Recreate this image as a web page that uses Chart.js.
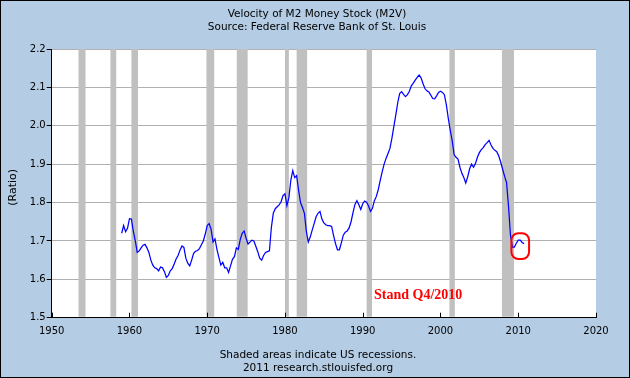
<!DOCTYPE html>
<html><head><meta charset="utf-8">
<script src="https://cdn.jsdelivr.net/npm/chart.js@4.4.1/dist/chart.umd.min.js"></script>
<style>html,body{margin:0;padding:0;background:#b4cce4}canvas{display:block}</style>
</head><body>
<canvas id="c" width="630" height="378"></canvas>
<script>
const titleLines = ['Velocity of M2 Money Stock (M2V)', 'Source: Federal Reserve Bank of St. Louis'];
const footerLines = ['Shaded areas indicate US recessions.', '2011 research.stlouisfed.org'];
const yAxisLabel = '(Ratio)';
const noteText = 'Stand Q4/2010';

// quarterly M2V, 1959Q1 .. 2010Q4
const startYear = 1959;
const m2v = [
  1.720,1.740,1.724,1.733, 1.758,1.757,1.725,1.700, 1.670,1.674,1.682,1.689,
  1.691,1.682,1.670,1.650, 1.637,1.630,1.628,1.622, 1.632,1.630,1.620,1.605,
  1.610,1.622,1.628,1.640, 1.653,1.662,1.676,1.687, 1.683,1.655,1.642,1.635,
  1.650,1.668,1.673,1.675, 1.680,1.690,1.700,1.718, 1.740,1.745,1.730,1.697,
  1.705,1.678,1.657,1.637, 1.644,1.630,1.630,1.618, 1.635,1.652,1.659,1.682,
  1.678,1.704,1.720,1.726, 1.707,1.692,1.697,1.702, 1.700,1.686,1.672,1.655,
  1.650,1.662,1.670,1.672, 1.674,1.735,1.772,1.784, 1.789,1.794,1.802,1.818,
  1.823,1.792,1.812,1.858, 1.883,1.865,1.870,1.832, 1.800,1.787,1.772,1.725,
  1.697,1.710,1.728,1.745, 1.763,1.772,1.777,1.757, 1.747,1.742,1.740,1.740,
  1.738,1.714,1.693,1.677, 1.677,1.695,1.715,1.723, 1.726,1.734,1.750,1.774,
  1.795,1.805,1.794,1.782, 1.797,1.804,1.801,1.791, 1.777,1.785,1.805,1.816,
  1.834,1.858,1.880,1.900, 1.915,1.928,1.941,1.967, 1.998,2.028,2.060,2.084,
  2.089,2.082,2.076,2.081, 2.090,2.104,2.111,2.119, 2.126,2.132,2.125,2.110,
  2.097,2.091,2.088,2.080, 2.071,2.070,2.078,2.087, 2.090,2.087,2.081,2.055,
  2.020,1.989,1.962,1.925, 1.918,1.913,1.892,1.876, 1.865,1.851,1.867,1.888,
  1.900,1.892,1.902,1.918, 1.930,1.938,1.943,1.951, 1.956,1.962,1.950,1.941,
  1.936,1.932,1.921,1.905, 1.886,1.868,1.852,1.790, 1.715,1.684,1.684,1.694,
  1.702,1.702,1.696,1.693
];

// NBER recessions (start, end) in fractional years
const recessions = [
  [1953.45,1954.35],[1957.55,1958.3],[1960.25,1961.1],[1969.9,1970.9],[1973.8,1975.2],
  [1980.0,1980.5],[1981.5,1982.85],[1990.5,1991.2],[2001.15,2001.85],[2007.9,2009.45]
];

const xMin = 1950, xMax = 2020, xStep = 10;
const yMin = 1.5, yMax = 2.2, yStep = 0.1;
const highlightFrom = 2009.25; // circled period

const points = m2v.map((v, i) => ({x: startYear + i / 4, y: v}));

const FONT = "'DejaVu Sans', Verdana, sans-serif";

const decor = {
  id: 'decor',
  beforeDraw(chart) {
    const {ctx, chartArea: a, width, height} = chart;
    ctx.save();
    ctx.fillStyle = '#b4cce4';
    ctx.fillRect(0, 0, width, height);
    ctx.fillStyle = '#ffffff';
    ctx.fillRect(a.left, a.top, a.right - a.left, a.bottom - a.top);
    ctx.restore();
  },
  beforeDatasetsDraw(chart) {
    const {ctx, chartArea: a, scales: {x}} = chart;
    ctx.save();
    ctx.fillStyle = '#c0c0c0';
    recessions.forEach(([s, e]) => {
      const x1 = x.getPixelForValue(s), x2 = x.getPixelForValue(e);
      ctx.fillRect(x1, a.top, x2 - x1, a.bottom - a.top - 1);
    });
    ctx.restore();
  },
  afterDraw(chart) {
    const {ctx, chartArea: a, width, height, scales: {x, y}} = chart;
    ctx.save();
    // inward x ticks
    ctx.strokeStyle = '#000';
    ctx.lineWidth = 1;
    x.ticks.forEach(t => {
      const px = Math.round(x.getPixelForValue(t.value)) + 0.5;
      ctx.beginPath();
      ctx.moveTo(px, a.bottom);
      ctx.lineTo(px, a.bottom - 5);
      ctx.stroke();
    });
    // titles
    ctx.fillStyle = '#000';
    ctx.font = '10.5px ' + FONT;
    ctx.textAlign = 'center';
    ctx.textBaseline = 'middle';
    ctx.fillText(titleLines[0], width / 2 + 2, 14);
    ctx.fillText(titleLines[1], width / 2 + 2, 27);
    ctx.fillText(footerLines[0], width / 2 + 3, 355);
    ctx.fillText(footerLines[1], width / 2 + 3, 368);
    // y axis label
    ctx.save();
    ctx.translate(13, (a.top + a.bottom) / 2 + 4);
    ctx.rotate(-Math.PI / 2);
    ctx.font = '11px ' + FONT;
    ctx.fillText(yAxisLabel, 0, 0);
    ctx.restore();
    // annotation circle around the latest quarters
    const recent = points.filter(p => p.x >= highlightFrom);
    const vmax = Math.max(...recent.map(p => p.y)), vmin = Math.min(...recent.map(p => p.y));
    const rx1 = x.getPixelForValue(recent[0].x) - 1;
    const rx2 = x.getPixelForValue(recent[recent.length - 1].x) + 5;
    const ry1 = y.getPixelForValue(vmax) - 7;
    const ry2 = y.getPixelForValue(vmin) + 12;
    ctx.strokeStyle = '#ff0000';
    ctx.lineWidth = 2;
    ctx.beginPath();
    ctx.roundRect(rx1, ry1, rx2 - rx1, ry2 - ry1, 7);
    ctx.stroke();
    // annotation text
    ctx.fillStyle = '#ff0000';
    ctx.font = "bold 14px 'Liberation Serif', 'Times New Roman', serif";
    ctx.textAlign = 'left';
    ctx.textBaseline = 'middle';
    ctx.fillText(noteText, x.getPixelForValue(1991.45), y.getPixelForValue(1.558));
    // outer frame
    ctx.strokeStyle = '#000';
    ctx.lineWidth = 1;
    ctx.strokeRect(0.5, 0.5, width - 1, height - 1);
    ctx.restore();
  }
};

new Chart(document.getElementById('c'), {
  type: 'line',
  data: {
    datasets: [{
      data: points,
      borderColor: '#0000ff',
      borderWidth: 1.25,
      pointRadius: 0,
      tension: 0,
      fill: false
    }]
  },
  options: {
    responsive: false,
    animation: false,
    events: [],
    layout: {padding: {left: 7.7, right: 34, top: 49, bottom: 40.3}},
    plugins: {legend: {display: false}, title: {display: false}, tooltip: {enabled: false}},
    scales: {
      x: {
        type: 'linear', min: xMin, max: xMax,
        afterFit(s) { s.height = 20; },
        ticks: {stepSize: xStep, autoSkip: false, maxRotation: 0, padding: 8, color: '#000',
                font: {family: FONT, size: 10}, callback: v => String(v)},
        grid: {display: true, drawOnChartArea: false, drawTicks: false},
        border: {display: true, color: '#000', width: 1}
      },
      y: {
        min: yMin, max: yMax,
        afterFit(s) { s.width = 44; },
        ticks: {stepSize: yStep, padding: 1, color: '#000', font: {family: FONT, size: 10},
                callback: v => Number(v).toFixed(1)},
        grid: {color: '#b0b0b0', lineWidth: 1, tickLength: 5, tickColor: '#000', drawTicks: true},
        border: {display: true, color: '#000', width: 1}
      }
    }
  },
  plugins: [decor]
});
</script>
</body></html>
